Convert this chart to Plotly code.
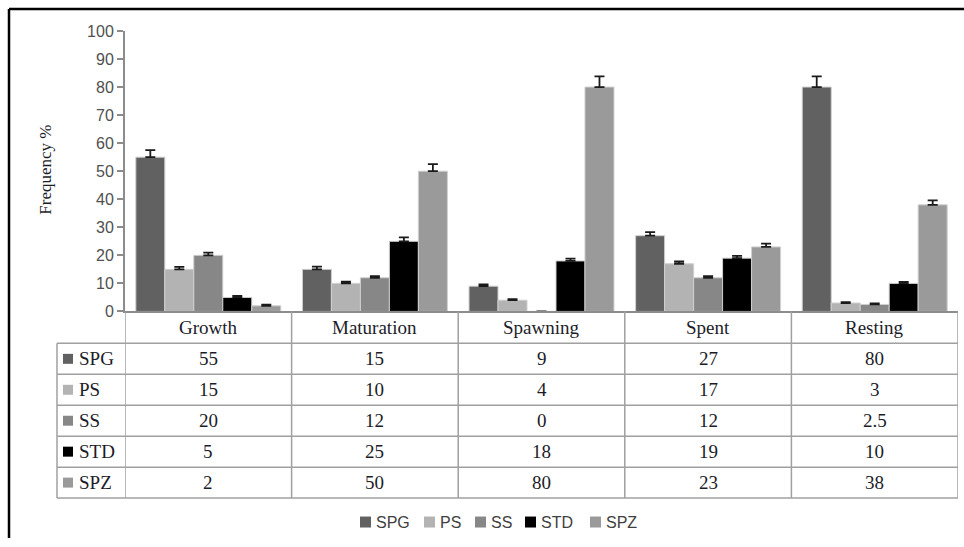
import plotly.graph_objects as go

# ---------------- data ----------------
stages = ["Growth", "Maturation", "Spawning", "Spent", "Resting"]
series_names = ["SPG", "PS", "SS", "STD", "SPZ"]
spg = [55, 15, 9, 27, 80]
ps = [15, 10, 4, 17, 3]
ss = [20, 12, 0, 12, 2.5]
std = [5, 25, 18, 19, 10]
spz = [2, 50, 80, 23, 38]
series_values = [spg, ps, ss, std, spz]

spg_err = [2.5, 1.0, 0.6, 1.3, 3.8]
ps_err = [0.9, 0.6, 0.4, 0.8, 0.3]
ss_err = [1.0, 0.6, 0.0, 0.6, 0.4]
std_err = [0.5, 1.4, 0.8, 0.8, 0.5]
spz_err = [0.4, 2.5, 3.8, 1.2, 1.6]
series_errors = [spg_err, ps_err, ss_err, std_err, spz_err]

y_ticks = [0, 10, 20, 30, 40, 50, 60, 70, 80, 90, 100]

# ---------------- style ----------------
colors = ["#616161", "#b3b3b3", "#878787", "#000000", "#9a9a9a"]
W, H = 964, 547
TOP, SPAN = 8, 531          # vertical placement of the layout inside the picture
def px(x): return min(max(x / W, 0), 1)
def py(y): return min(max(1 - (y - TOP) / SPAN, 0), 1)

AX = "#8c8c8c"
GRID = "#a0a0a0"
SERIF = "Liberation Serif"
SANS = "Liberation Sans"
TXT = "#1c1c28"

plot_left, plot_right = 125, 958
plot_top, plot_bottom = 31, 312
header_h, row_h = 32, 31
label_left = 57

fig = go.Figure()
for name, vals, errs, col in zip(series_names, series_values, series_errors, colors):
    fig.add_trace(go.Bar(
        x=stages, y=vals, name=name,
        marker=dict(color=col, line=dict(color="#cfcfcf", width=1)),
        error_y=dict(type="data", array=errs, arrayminus=[0] * len(errs),
                     symmetric=False, color="#1a1a1a", thickness=1.8, width=5),
        showlegend=False,
    ))

shapes = []
annotations = []

def note(x, y, text, xref="paper", xanchor="center", size=19, family=SERIF, color=TXT, angle=0):
    annotations.append(dict(x=x, xref=xref, y=y, yref="paper", xanchor=xanchor, yanchor="middle",
                            text=text, showarrow=False, textangle=angle,
                            font=dict(family=family, size=size, color=color)))

# frame (left and top border)
shapes.append(dict(type="line", xref="paper", yref="paper", x0=px(9), x1=px(9), y0=py(9), y1=0,
                   line=dict(color="#000000", width=2.5)))
shapes.append(dict(type="line", xref="paper", yref="paper", x0=px(9), x1=1, y0=py(9), y1=py(9),
                   line=dict(color="#000000", width=2.5)))

# table geometry
table_bottom = plot_bottom + header_h + row_h * len(series_names)
for i in range(len(stages) + 1):
    shapes.append(dict(type="line", xref="x", yref="paper", x0=i - 0.5, x1=i - 0.5,
                       y0=py(plot_bottom), y1=py(table_bottom), line=dict(color=GRID, width=1.5)))
shapes.append(dict(type="line", xref="paper", yref="paper", x0=px(label_left), x1=px(label_left),
                   y0=py(plot_bottom + header_h), y1=py(table_bottom), line=dict(color=GRID, width=1.5)))
for k in range(len(series_names) + 1):
    yy = plot_bottom + header_h + k * row_h
    shapes.append(dict(type="line", xref="paper", yref="paper", x0=px(label_left), x1=px(plot_right),
                       y0=py(yy), y1=py(yy), line=dict(color=GRID, width=1.5)))

# header texts
for s in stages:
    note(s, py(plot_bottom + header_h / 2), s, xref="x")
# rows
for k, (name, vals, col) in enumerate(zip(series_names, series_values, colors)):
    cy = plot_bottom + header_h + k * row_h + row_h / 2
    shapes.append(dict(type="rect", xref="paper", yref="paper", x0=px(63), x1=px(73),
                       y0=py(cy + 5), y1=py(cy - 5), fillcolor=col, line=dict(width=0)))
    note(px(77), py(cy), name, xanchor="left")
    for s, v in zip(stages, vals):
        note(s, py(cy), f"{v:g}", xref="x")

# y-axis title
note(px(46), py(170), "Frequency %", size=17, angle=-90)

# legend (bottom)
legend_x = [360, 424, 475, 525, 590]
ly = 523
for name, col, lx in zip(series_names, colors, legend_x):
    shapes.append(dict(type="rect", xref="paper", yref="paper", x0=px(lx), x1=px(lx + 11),
                       y0=py(ly + 5.5), y1=py(ly - 5.5), fillcolor=col, line=dict(width=0)))
    note(px(lx + 14), py(ly), name, xanchor="left", size=16, family=SANS, color="#404040")

fig.update_layout(
    width=W, height=H, autosize=False,
    margin=dict(l=0, r=0, t=0, b=0),
    paper_bgcolor="white", plot_bgcolor="white",
    barmode="group", bargap=0.13, bargroupgap=0,
    shapes=shapes, annotations=annotations,
    xaxis=dict(domain=[px(plot_left), px(plot_right)], type="category", range=[-0.5, 4.5],
               showticklabels=False, showline=True, linecolor=AX, linewidth=2,
               ticks="", showgrid=False, zeroline=False),
    yaxis=dict(domain=[py(plot_bottom), py(plot_top)], range=[0, 100], tickvals=y_ticks,
               showline=True, linecolor=AX, linewidth=2, ticks="outside", ticklen=6,
               tickcolor=AX, tickwidth=1.5, showgrid=False, zeroline=False,
               tickfont=dict(family=SANS, size=16, color="#505050")),
)

fig.write_html(
    "out.html",
    config={"displayModeBar": False},
    post_script=(
        "document.documentElement.style.margin='0';"
        "document.documentElement.style.overflow='hidden';"
        "document.body.style.margin='0';document.body.style.padding='0';"
        "document.body.style.overflow='hidden';"
        "var d=document.getElementById('{plot_id}');"
        "d.style.position='fixed';d.style.left='0px';d.style.top='0px';"
    ),
)
